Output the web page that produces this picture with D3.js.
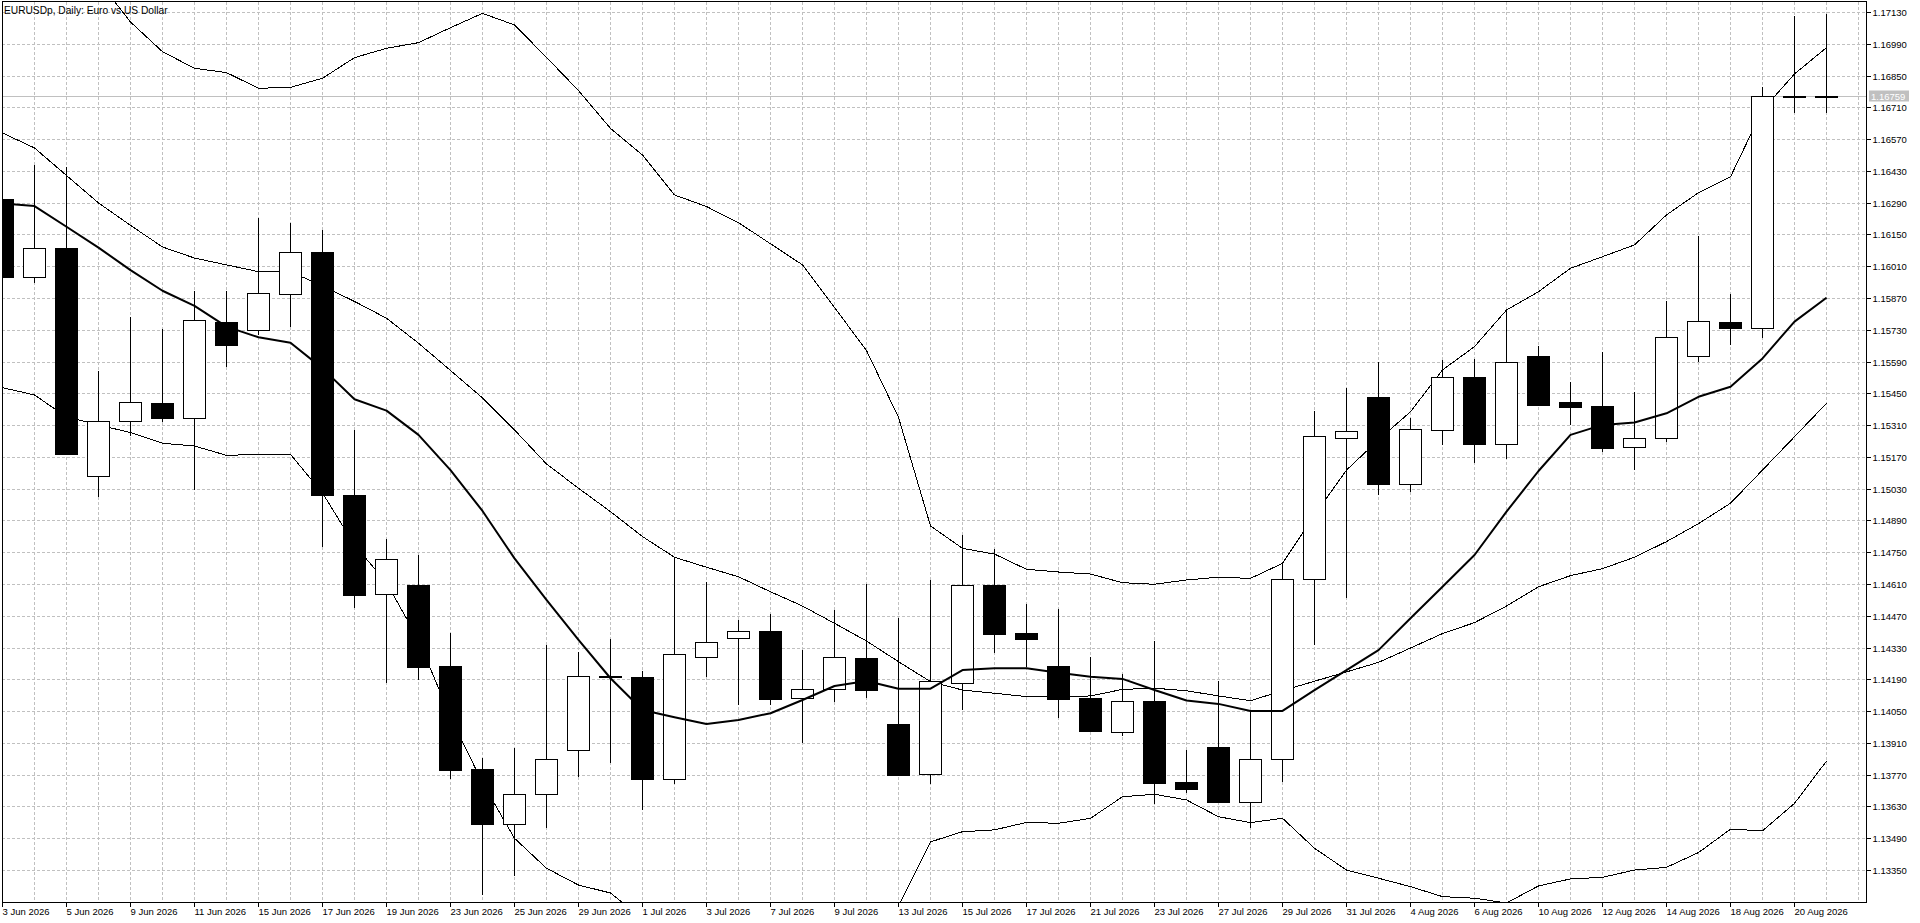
<!DOCTYPE html>
<html><head><meta charset="utf-8">
<script src="https://cdn.jsdelivr.net/npm/d3@7/dist/d3.min.js"></script>
<style>
html,body{margin:0;padding:0;background:#fff;overflow:hidden;}
svg{display:block;}
text{font-family:"Liberation Sans",Arial,sans-serif;}
</style></head><body>
<svg id="chart" width="1920" height="923"></svg>
<script>
const title = "EURUSDp, Daily:  Euro vs US Dollar";
const dates = ["3 Jun 2026","4 Jun 2026","5 Jun 2026","8 Jun 2026","9 Jun 2026","10 Jun 2026","11 Jun 2026","12 Jun 2026","15 Jun 2026","16 Jun 2026","17 Jun 2026","18 Jun 2026","19 Jun 2026","22 Jun 2026","23 Jun 2026","24 Jun 2026","25 Jun 2026","26 Jun 2026","29 Jun 2026","30 Jun 2026","1 Jul 2026","2 Jul 2026","3 Jul 2026","6 Jul 2026","7 Jul 2026","8 Jul 2026","9 Jul 2026","10 Jul 2026","13 Jul 2026","14 Jul 2026","15 Jul 2026","16 Jul 2026","17 Jul 2026","20 Jul 2026","21 Jul 2026","22 Jul 2026","23 Jul 2026","24 Jul 2026","27 Jul 2026","28 Jul 2026","29 Jul 2026","30 Jul 2026","31 Jul 2026","3 Aug 2026","4 Aug 2026","5 Aug 2026","6 Aug 2026","7 Aug 2026","10 Aug 2026","11 Aug 2026","12 Aug 2026","13 Aug 2026","14 Aug 2026","17 Aug 2026","18 Aug 2026","19 Aug 2026","20 Aug 2026","21 Aug 2026"];
const open  = [1.16305,1.15964,1.16089,1.15085,1.15327,1.15406,1.15340,1.15763,1.15728,1.15886,1.16071,1.15001,1.14565,1.14606,1.14249,1.13795,1.13552,1.13684,1.13878,1.14203,1.14199,1.13753,1.14287,1.14371,1.14403,1.14107,1.14147,1.14283,1.13992,1.13772,1.14173,1.14606,1.14393,1.14248,1.14107,1.13957,1.14095,1.13737,1.13891,1.13649,1.13838,1.14631,1.15252,1.15434,1.15050,1.15289,1.15521,1.15226,1.15615,1.15413,1.15394,1.15213,1.15252,1.15615,1.15764,1.15737,1.16762,1.16762];
const high  = [1.16320,1.16456,1.16449,1.15550,1.15788,1.15734,1.15901,1.15901,1.16221,1.16201,1.16170,1.15289,1.14809,1.14738,1.14396,1.13843,1.13887,1.14342,1.14312,1.14368,1.14227,1.14731,1.14618,1.14452,1.14477,1.14320,1.14496,1.14609,1.14462,1.14628,1.14826,1.14765,1.14522,1.14502,1.14289,1.14214,1.14359,1.13877,1.14183,1.14048,1.14702,1.15374,1.15475,1.15590,1.15343,1.15597,1.15601,1.15817,1.15659,1.15500,1.15634,1.15455,1.15857,1.16145,1.15888,1.16801,1.17112,1.17121];
const low   = [1.15950,1.15938,1.15177,1.14995,1.15264,1.15325,1.15024,1.15568,1.15707,1.15744,1.14775,1.14506,1.14173,1.14186,1.13753,1.13240,1.13325,1.13537,1.13761,1.13820,1.13615,1.13728,1.14202,1.14076,1.14076,1.13909,1.14092,1.14110,1.13765,1.13729,1.14055,1.14308,1.14243,1.14020,1.13960,1.13941,1.13640,1.13688,1.13647,1.13534,1.13740,1.14342,1.14547,1.15002,1.15017,1.15223,1.15145,1.15161,1.15396,1.15311,1.15193,1.15113,1.15237,1.15590,1.15663,1.15693,1.16684,1.16684];
const close = [1.15964,1.16089,1.15184,1.15327,1.15411,1.15340,1.15772,1.15664,1.15891,1.16071,1.15001,1.14563,1.14719,1.14246,1.13792,1.13552,1.13684,1.13838,1.14204,1.14199,1.13753,1.14302,1.14354,1.14402,1.14105,1.14147,1.14287,1.14145,1.13770,1.14182,1.14605,1.14390,1.14367,1.14105,1.13964,1.14094,1.13735,1.13706,1.13651,1.13838,1.14631,1.15262,1.15283,1.15050,1.15292,1.15521,1.15226,1.15588,1.15400,1.15391,1.15211,1.15252,1.15697,1.15769,1.15737,1.16761,1.16759,1.16759];
const maLine = [1.16287,1.16275,1.16184,1.16092,1.15993,1.15902,1.15835,1.15744,1.15697,1.15673,1.15560,1.15424,1.15374,1.15267,1.15112,1.14932,1.14723,1.14540,1.14364,1.14195,1.14055,1.14023,1.13993,1.14011,1.14041,1.14099,1.14161,1.14183,1.14149,1.14149,1.14231,1.14239,1.14239,1.14219,1.14202,1.14192,1.14143,1.14097,1.14082,1.14051,1.14051,1.14143,1.14231,1.14319,1.14459,1.14598,1.14738,1.14929,1.15108,1.15267,1.15311,1.15322,1.15362,1.15435,1.15479,1.15604,1.15766,1.15871];
const bbUpper = [1.17719,1.17619,1.17474,1.17267,1.17086,1.16955,1.16882,1.16863,1.16794,1.16798,1.16838,1.16929,1.16970,1.16995,1.17061,1.17124,1.17073,1.16930,1.16784,1.16617,1.16500,1.16324,1.16273,1.16202,1.16109,1.16016,1.15828,1.15639,1.15344,1.14866,1.14767,1.14742,1.14675,1.14663,1.14654,1.14616,1.14609,1.14628,1.14640,1.14635,1.14701,1.14914,1.15112,1.15245,1.15369,1.15553,1.15656,1.15817,1.15898,1.16001,1.16052,1.16104,1.16236,1.16334,1.16404,1.16698,1.16857,1.16973];
const bbMiddle = [1.16597,1.16531,1.16410,1.16289,1.16190,1.16095,1.16046,1.16016,1.15986,1.15986,1.15923,1.15855,1.15781,1.15671,1.15551,1.15430,1.15289,1.15139,1.15032,1.14929,1.14819,1.14728,1.14684,1.14642,1.14576,1.14513,1.14437,1.14359,1.14268,1.14180,1.14143,1.14129,1.14114,1.14114,1.14117,1.14146,1.14151,1.14140,1.14117,1.14096,1.14140,1.14182,1.14223,1.14265,1.14328,1.14392,1.14440,1.14513,1.14598,1.14647,1.14678,1.14728,1.14797,1.14876,1.14966,1.15112,1.15259,1.15406];
const bbLower = [1.15475,1.15443,1.15346,1.15311,1.15277,1.15230,1.15218,1.15177,1.15181,1.15181,1.15011,1.14782,1.14616,1.14364,1.14024,1.13734,1.13490,1.13358,1.13284,1.13249,1.13137,1.13132,1.13094,1.13083,1.13043,1.13011,1.13046,1.13079,1.13192,1.13474,1.13519,1.13527,1.13560,1.13556,1.13578,1.13673,1.13684,1.13659,1.13585,1.13559,1.13578,1.13446,1.13350,1.13314,1.13277,1.13233,1.13226,1.13205,1.13280,1.13311,1.13318,1.13350,1.13362,1.13427,1.13530,1.13523,1.13644,1.13830];
const priceTicks = d3.range(0, 28).map(k => +(1.13350 + k * 0.0014).toFixed(5));
const currentPrice = 1.16759;

const svg = d3.select("#chart");
const L = 2, T = 2, R = 1866, B = 902;
const x = d3.scaleLinear().domain([0, 57]).range([2, 2 + 32 * 57]);
const y = d3.scaleLinear().domain([1.13350, 1.17130]).range([870.06, 12]);
const px = v => Math.round(v) + 0.5;

svg.append("rect").attr("width", 1920).attr("height", 923).attr("fill", "#fff");

svg.append("defs").append("clipPath").attr("id", "clip")
  .append("rect").attr("x", L + 1).attr("y", T).attr("width", R - L - 1).attr("height", B - T);

// grid via axes
const grid = svg.append("g").attr("shape-rendering", "crispEdges");
const gy = grid.append("g").attr("transform", `translate(${L},0)`)
  .call(d3.axisRight(y).tickValues(priceTicks).tickSize(R - L).tickFormat(""));
gy.select(".domain").remove();
gy.selectAll("line").attr("stroke", "#c0c0c0").attr("stroke-dasharray", "3,2");
gy.selectAll(".tick").attr("transform", d => `translate(0,${px(y(d))})`);

const gx = grid.append("g").attr("transform", `translate(0,${T})`)
  .call(d3.axisBottom(x).tickValues(d3.range(0, 59)).tickSize(B - T).tickFormat(""));
gx.select(".domain").remove();
gx.selectAll(".tick").attr("transform", d => `translate(${px(x(d))},0)`);
gx.selectAll("line").attr("stroke", "#c0c0c0").attr("stroke-dasharray", "3,2");

// current price line
svg.append("line").attr("x1", L).attr("x2", R).attr("y1", px(y(currentPrice))).attr("y2", px(y(currentPrice)))
  .attr("stroke", "#c0c0c0").attr("shape-rendering", "crispEdges");

const plot = svg.append("g").attr("clip-path", "url(#clip)");

// Bollinger bands
const idx = d3.range(dates.length);
const lineGen = arr => d3.line().x(i => x(i) + 0.5).y(i => y(arr[i]))(idx);
[bbUpper, bbMiddle, bbLower].forEach(arr => {
  plot.append("path").attr("d", lineGen(arr)).attr("fill", "none").attr("stroke", "#000")
    .attr("stroke-width", 1).attr("shape-rendering", "crispEdges");
});

// candles
const cg = plot.append("g").attr("shape-rendering", "crispEdges");
idx.forEach(i => {
  const cx = px(x(i));
  cg.append("line").attr("x1", cx).attr("x2", cx).attr("y1", y(high[i])).attr("y2", y(low[i]))
    .attr("stroke", "#000");
  const top = Math.round(y(Math.max(open[i], close[i])));
  const bot = Math.round(y(Math.min(open[i], close[i])));
  const bull = close[i] > open[i];
  cg.append("rect").attr("x", cx - 11).attr("width", 22)
    .attr("y", top + 0.5).attr("height", Math.max(bot - top, 1))
    .attr("fill", bull ? "#fff" : "#000").attr("stroke", "#000");
});

// moving average (thick)
plot.append("path").attr("d", lineGen(maLine)).attr("fill", "none").attr("stroke", "#000")
  .attr("stroke-width", 2).attr("stroke-linejoin", "round");

// frame
svg.append("rect").attr("x", L + 0.5).attr("y", T - 0.5).attr("width", R - L).attr("height", B - T + 1)
  .attr("fill", "none").attr("stroke", "#000").attr("shape-rendering", "crispEdges");

// right axis
const ay = svg.append("g").attr("transform", `translate(${R + 0.5},0)`)
  .call(d3.axisRight(y).tickValues(priceTicks).tickSize(4).tickPadding(2).tickFormat(d3.format(".5f")));
ay.select(".domain").remove();
ay.selectAll(".tick").attr("transform", d => `translate(0,${px(y(d))})`);
ay.selectAll("line").attr("stroke", "#000").attr("shape-rendering", "crispEdges");
ay.selectAll("text").attr("font-family", "Liberation Sans, Arial, sans-serif").attr("font-size", 9.5).attr("fill", "#000");

// current price label
const cy = px(y(currentPrice));
svg.append("rect").attr("x", 1869).attr("y", cy - 6).attr("width", 40).attr("height", 11).attr("fill", "#c0c0c0");
svg.append("text").attr("x", 1871).attr("y", cy + 3.5).attr("font-size", 9.5).attr("fill", "#fff").text(currentPrice.toFixed(5));

// bottom axis
const ax = svg.append("g").attr("transform", `translate(0,${B + 0.5})`)
  .call(d3.axisBottom(x).tickValues(d3.range(0, 58, 2)).tickSize(4).tickFormat(i => dates[i]));
ax.select(".domain").remove();
ax.selectAll(".tick").attr("transform", d => `translate(${px(x(d))},0)`);
ax.selectAll("line").attr("stroke", "#000").attr("shape-rendering", "crispEdges");
ax.selectAll("text").attr("text-anchor", "start").attr("x", 0).attr("y", 6).attr("dy", "0.71em")
  .attr("font-family", "Liberation Sans, Arial, sans-serif").attr("font-size", 9.5).attr("fill", "#000");

// title
svg.append("text").attr("x", 4).attr("y", 13.5).attr("font-size", 10.2).attr("fill", "#000").text(title);
</script>
</body></html>
